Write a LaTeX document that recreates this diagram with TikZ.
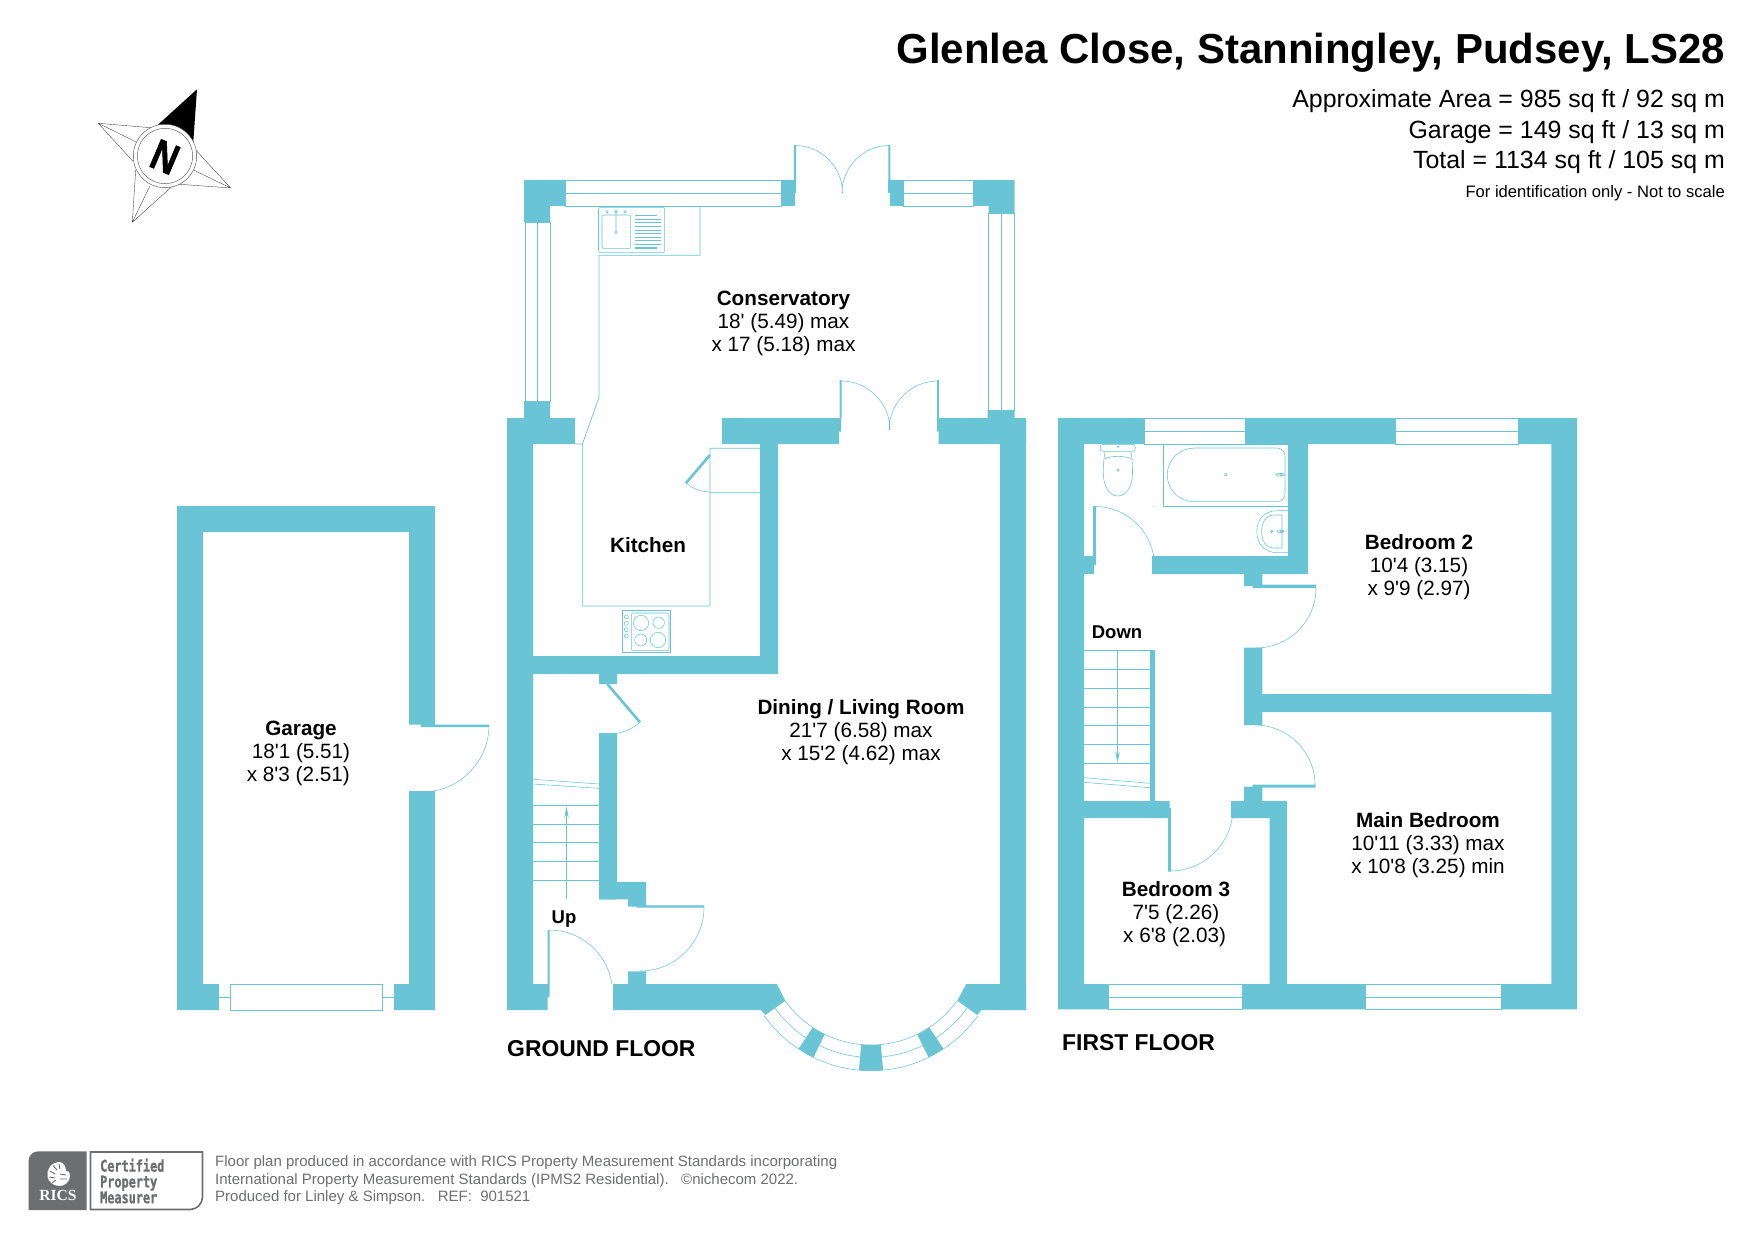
\documentclass[tikz,border=0pt]{standalone}
\usepackage{fontspec}
\setmainfont[Ligatures=TeXOff]{Liberation Sans}
\newfontfamily\badgefont[FakeStretch=0.74,FakeBold=1.2]{DejaVu Sans Mono}
\newfontfamily\ricsfont{Liberation Serif}
\newfontfamily\northfont[FakeBold=1.5]{Liberation Sans Bold}
\usepackage{xcolor}
\usetikzlibrary{arrows.meta,calc}
\definecolor{wallblue}{HTML}{69C4D6}
\definecolor{badgegrey}{HTML}{6D6E70}
\begin{document}
\begin{tikzpicture}[x=1pt,y=-1pt,every node/.style={inner sep=0pt,align=center}]
\tikzstyle{wall}=[fill=wallblue]
\tikzstyle{line}=[draw=wallblue,line width=0.7pt]
\tikzstyle{fine}=[draw=wallblue,line width=0.55pt]
\tikzstyle{leaf}=[draw=wallblue,line width=2.6pt]
\tikzstyle{room}=[font=\fontsize{20.7}{23}\selectfont]
\tikzstyle{small}=[font=\bfseries\fontsize{18.5}{22}\selectfont]
\tikzstyle{floorname}=[font=\bfseries\fontsize{22.9}{28}\selectfont,anchor=west]
\tikzstyle{area}=[font=\fontsize{24.9}{30}\selectfont,anchor=east]
\tikzstyle{credit}=[font=\fontsize{15}{18}\selectfont,anchor=west,text=badgegrey]
\tikzstyle{starline}=[draw=black!70,line width=0.4pt]
\useasboundingbox (0,0) rectangle (1755,1241);

\fill[wall] (177,506) rectangle (435,532) (177,506) rectangle (203,1010)
      (409,506) rectangle (435,724.5) (409,791) rectangle (435,1010)
      (177,984) rectangle (219,1010) (394,984) rectangle (435,1010)
      (421,724.5) rectangle (489,727);
\draw[line] (230,984) rectangle (382,1010) (219,997.5) -- (230,997.5) (382,997.5) -- (394,997.5);
\draw[fine] (489,725) arc (0:90:67);

\fill[wall] (507,418) rectangle (533,1010) (507,418) rectangle (575,444)
      (1000,418) rectangle (1026,1010)
      (760,444) rectangle (778,674) (533,656) rectangle (778,674)
      (599,674) rectangle (617,684) (599,733) rectangle (617,899.3)
      (628,971.3) rectangle (646,984)
      (507,984) rectangle (547.6,1010) (547.6,930) rectangle (549.6,997)
      (839.5,380) rectangle (841.5,418) (937,380) rectangle (939,418);
\fill[wall] (722,418) -- (841,418) -- (841,431.7) -- (839,431.7) -- (839,444) -- (722,444) -- cycle;
\fill[wall] (937,418) -- (1026,418) -- (1026,444) -- (938.5,444) -- (938.5,431.7) -- (937,431.7) -- cycle;
\fill[wall] (617,882) -- (646,882) -- (646,905.3) -- (704,905.3) -- (704,907.5) -- (636.5,907.5)
      -- (636.5,906.5) -- (628,906.5) -- (628,899.3) -- (599,899.3) -- (599,882) -- cycle;
\fill[wall] (613,984) -- (777,984) -- (785.3,1000.7) -- (765.3,1015) -- (761,1010) -- (613,1010) -- cycle;
\fill[wall] (966.2,984) -- (957.3,1000.7) -- (977.3,1015) -- (981.4,1010) -- (1026,1010) -- (1026,984) -- cycle;

\foreach \r in {105.6,118,131.3}
  \draw[fine] ($(871,939.4)+(35.5:\r)$) arc (35.5:144.5:\r);
\foreach \a/\b in {84.7/95.3,116/123.5,56.5/64}
  \fill[wall] ($(871,939.4)+(\a:105.6)$) arc (\a:\b:105.6) -- ($(871,939.4)+(\b:131.3)$) arc (\b:\a:131.3) -- cycle;

\fill[wall] (524,180) -- (565,180) -- (565,206) -- (550,206) -- (550,222) -- (524,222) -- cycle;
\fill[wall] (781.5,180) -- (796,180) -- (796,193) -- (795,193) -- (795,206) -- (781.5,206) -- cycle;
\fill[wall] (888,180) -- (903,180) -- (903,206) -- (890,206) -- (890,193) -- (888,193) -- cycle;
\fill[wall] (973,180) -- (1014.5,180) -- (1014.5,213) -- (988.6,213) -- (988.6,206) -- (973,206) -- cycle;
\fill[wall] (524,401) rectangle (550,418) (987.6,410) rectangle (1014.5,418)
      (793.8,145) rectangle (796,181) (888.3,145) rectangle (890.4,181);
\draw[line] (565,180) rectangle (781.5,206) (565,193.3) -- (781.5,193.3)
      (903,180) rectangle (973,206) (903,193.3) -- (973,193.3)
      (525,222) rectangle (550,401) (537,222) -- (537,401)
      (988.6,213) rectangle (1014.5,410) (1001.4,213) -- (1001.4,410);
\draw[fine] (795,145.5) arc (-90:0:47.5) (889.5,145.5) arc (-90:-180:47.5)
      (841,381) arc (-90:0:49) (938,381) arc (-90:-180:49);

\draw[line] (700,206) -- (700,255.3) -- (599,255.3) -- (599,397.3) -- (582.7,443.3) -- (582.7,606)
      -- (710,606) -- (710,448.3) -- (760,448.3) (710,492.7) -- (760,492.7) (575,444) -- (582.7,444);
\draw[leaf] (710,455) -- (686,483);
\draw[fine] (686,483) arc (130.6:90:36.9);
\draw[fine,rounded corners=2pt] (598.5,207.3) rectangle (664.7,252.7) (602,215) rectangle (630.6,248.7);
\draw[fine] (616,210) -- (616,231.7) (616,232.5) circle (1.3) (607,211.7) circle (1.2) (616,211.7) circle (1.2) (625,211.7) circle (1.2);
\foreach \y in {219.3,222.9,226.5,230.1,233.7,237.3,240.9,244.5}
  \draw[draw=wallblue,line width=1.1pt] (635,\y) -- (660.6,\y);
\draw[draw=wallblue,line width=1.1pt] (635,215.7) -- (657,215.7) (635,248) -- (657,248);
\draw[fine] (622.3,610.3) rectangle (670.7,652.3);
\draw[fine,rounded corners=2pt] (631.3,613) rectangle (669,650.7);
\draw[fine] (641,623) circle (7.7) (658.7,622.7) circle (5.7) (640.7,640) circle (6) (658,640) circle (7.7);
\foreach \y in {617,623.3,629.7,636}
  \draw[fine] (626.3,\y) circle (2);

\draw[leaf] (607.3,684) -- (640,722.3);
\draw[fine] (640,722.3) arc (49.5:79.2:50.3);
\draw[fine] (704,907) arc (0:90:64) (549.5,930) arc (-90:-8:63);
\foreach \y in {805,824.3,842.3,861.7,880.7}
  \draw[fine] (533,\y) -- (599,\y);
\draw[fine] (533,779.3) -- (599,784) (533,784) -- (599,788.3);
\draw[fine,-{Stealth[length=11pt,width=4.5pt,fill=wallblue]}] (566.5,899) -- (566.5,806.7);

\fill[wall] (1058,418) rectangle (1084,1009.3) (1551.4,418) rectangle (1577.2,1009.3)
      (1058,418) rectangle (1144.8,444) (1245,418) rectangle (1395.3,444) (1518.3,418) rectangle (1577.2,444)
      (1058,984) rectangle (1108,1009.3) (1242.3,984) rectangle (1365.3,1009.3) (1501.4,984) rectangle (1577.2,1009.3)
      (1288,444) rectangle (1308,574) (1152,556) rectangle (1308,574)
      (1084,556) rectangle (1095,565) (1084,565) rectangle (1094,574) (1093,506) rectangle (1096,565)
      (1244,647.7) rectangle (1262.3,725) (1262.3,694) rectangle (1551.4,712)
      (1231,801) rectangle (1287,818) (1269.5,818) rectangle (1287,984)
      (1084,801) rectangle (1169.6,818) (1168,808) rectangle (1171,871.7)
      (1150,650) rectangle (1155,801);
\fill[wall] (1244,574) -- (1262.3,574) -- (1262.3,584.7) -- (1316,584.7) -- (1316,588) -- (1252.6,588) -- (1252.6,586) -- (1244,586) -- cycle;
\fill[wall] (1244,786.7) -- (1252.6,786.7) -- (1252.6,784.7) -- (1315.7,784.7) -- (1315.7,787.7) -- (1262.3,787.7) -- (1262.3,801) -- (1244,801) -- cycle;
\draw[line] (1144.8,418) rectangle (1245,444) (1144.8,431.7) -- (1245,431.7)
      (1395.3,418) rectangle (1518.3,444) (1395.3,431.7) -- (1518.3,431.7)
      (1108,984) rectangle (1242.3,1009.3) (1108,997.3) -- (1242.3,997.3)
      (1365.3,984) rectangle (1501.4,1009.3) (1365.3,997.3) -- (1501.4,997.3);
\draw[fine] (1095,506.5) arc (-90:0:59.5) (1316,588) arc (0:90:60) (1315,785) arc (0:-90:60) (1233,808) arc (0:90:63);
\foreach \y in {650.5,669.5,688.5,707.5,725.7,744.7,763.3}
  \draw[fine] (1084,\y) -- (1150,\y);
\draw[fine] (1084,777.7) -- (1150,783.3) (1084,782.3) -- (1150,787.7);
\draw[fine,-{Stealth[length=11pt,width=4.5pt,fill=wallblue]}] (1117.5,650) -- (1117.5,762.7);

\draw[fine,rounded corners=3pt] (1100,444.4) rectangle (1135.3,451.3);
\draw[fine] (1105,451.5) .. controls (1104,458) and (1103.3,464) .. (1103.3,473)
      .. controls (1103.3,487) and (1110,496) .. (1118,496)
      .. controls (1126,496) and (1132.5,487) .. (1132.5,473)
      .. controls (1132.5,464) and (1132,458) .. (1131,451.5);
\draw[fine] (1104.7,459) .. controls (1110,455.5) and (1126,455.5) .. (1131.4,459);
\draw[fine] (1118,446.7) circle (0.8) (1118,470.3) circle (1.2);
\draw[fine] (1163.4,444) rectangle (1288,506.7);
\draw[fine] (1194,448) -- (1277,448) arc (-90:0:8) -- (1285,493.7) arc (0:90:8) -- (1194,501.7) arc (90:270:26.8);
\draw[fine] (1224.7,473.7) rectangle (1226.7,475.7) (1280,474.7) ellipse (4 and 1.5) (1281,474.7) circle (1.3);
\draw[fine] (1288,510.7) -- (1277,510.7) .. controls (1265,510.7) and (1256.8,519) .. (1256.8,531.7)
      .. controls (1256.8,544) and (1265,552.7) .. (1277,552.7) -- (1288,552.7);
\draw[fine] (1282,515) -- (1274,515) .. controls (1266,515) and (1261.6,522) .. (1261.6,531.5)
      .. controls (1261.6,541) and (1266,548) .. (1274,548) -- (1282,548) -- cycle;
\draw[fine] (1271.6,531.3) circle (1.2) (1280.5,531.3) ellipse (3.5 and 1.4) (1281.5,531.3) circle (1.2);

\node[room] (CONS) at (783.5,323.2) {\textbf{Conservatory}\\18' (5.49) max\\x 17 (5.18) max};
\node[room] (DINING) at (861,732.2) {\textbf{Dining / Living Room}\\21'7 (6.58) max\\x 15'2 (4.62) max};
\node[room] (GARAGE) at (301,753.2) {\textbf{Garage}\\18'1 (5.51)\\x 8'3 (2.51)\hspace*{.5ex}};
\node[room] (KITCHEN) at (648,544.6) {\textbf{Kitchen}};
\node[room] (BEDTWO) at (1419,567.2) {\textbf{Bedroom 2}\\10'4 (3.15)\\x 9'9 (2.97)};
\node[room] (BEDMAIN) at (1428,844.7) {\textbf{Main Bedroom}\\10'11 (3.33) max\\x 10'8 (3.25) min};
\node[room] (BEDTHREE) at (1176,914.2) {\textbf{Bedroom 3}\\7'5 (2.26)\\x 6'8 (2.03)\hspace*{.25ex}};
\node[small] (DOWN) at (1117,632) {Down};
\node[small] (UP) at (564,919) {Up};
\node[floorname] (GROUND) at (507,1049) {GROUND FLOOR};
\node[floorname] (FIRST) at (1062,1043) {FIRST FLOOR};

\node[font=\bfseries\fontsize{41.95}{48}\selectfont,anchor=east] (TITLE) at (1725,52.5) {Glenlea Close, Stanningley, Pudsey, LS28};
\node[area] (AREA) at (1725,100.7) {Approximate Area = 985 sq ft / 92 sq m};
\node[area] (GARAREA) at (1725,131.7) {Garage = 149 sq ft / 13 sq m};
\node[area] (TOTAL) at (1725,162.2) {Total = 1134 sq ft / 105 sq m};
\node[font=\fontsize{16.6}{20}\selectfont,anchor=east] (NOTE) at (1725,193.2) {For identification only - Not to scale};

\draw[starline] (98.3,123.3) -- (150.7,127.7) (98.3,123.3) -- (135.7,141.7) (98.3,123.3) -- (133.3,161.7)
      (230.7,188) -- (195.7,150) (230.7,188) -- (194,170.3) (230.7,188) -- (180,184.3)
      (132.3,222.3) -- (135.7,170) (132.3,222.3) -- (150,185.7) (132.3,222.3) -- (171.7,186.7);
\fill[black] (197,89.3) -- (157.7,125) -- (165,156) -- (193.3,141.7) -- cycle;
\draw[starline,fill=white] (165,156) circle (31.7) (165,156) circle (27.7);
\node[rotate=-23,font=\northfont\fontsize{43}{43}\selectfont] (NORTH) at (165,157) {\scalebox{.82}[1]{N}};

\fill[badgegrey] (28.5,1210) -- (28.5,1161) arc (180:270:9.7) -- (86.7,1151.3) -- (86.7,1210) -- cycle;
\draw[badgegrey,line width=1.6pt] (90.5,1152) -- (202.5,1152) -- (202.5,1197) arc (0:90:12.5) -- (90.5,1209.5) -- cycle;
\fill[white] (60,1162) .. controls (51,1162) and (46,1170) .. (47.5,1177) .. controls (49,1183) and (54,1186) .. (60,1186)
      .. controls (64,1186) and (70,1182) .. (70,1176) .. controls (70,1172) and (68,1170) .. (66,1171)
      .. controls (66,1167) and (64,1163) .. (60,1162) -- cycle;
\draw[badgegrey,line width=0.9pt] (50,1171) -- (55,1174) (49.5,1177) -- (55,1178) (52,1183) -- (56,1180)
      (53,1165.5) -- (57,1170) (59,1164) -- (60,1169) (60,1174) -- (66,1175) (60,1179) -- (67,1179);
\node[font=\ricsfont\bfseries\fontsize{15.5}{18}\selectfont,text=white] (RICS) at (58,1195) {RICS};
\node[font=\badgefont\bfseries\fontsize{16}{15.8}\selectfont,text=badgegrey,anchor=west,align=left] (CERT) at (100,1181) {Certified\\Property\\Measurer};
\node[credit] (LINEONE) at (215,1163) {Floor plan produced in accordance with RICS Property Measurement Standards incorporating};
\node[credit] (LINETWO) at (215,1181) {International Property Measurement Standards (IPMS2 Residential).\ \ \ ©nichecom 2022.};
\node[credit] (LINETHREE) at (215,1198) {Produced for Linley \& Simpson.\ \ \ REF:\ \ 901521};
\end{tikzpicture}
\end{document}
